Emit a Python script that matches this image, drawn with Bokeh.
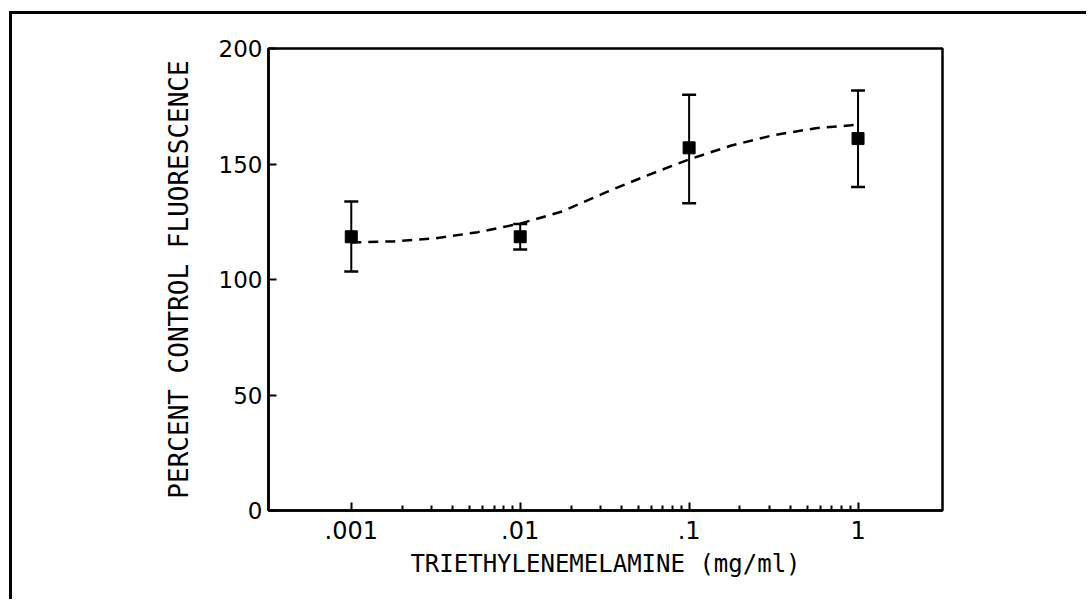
import numpy as np
from bokeh.plotting import figure
from bokeh.models import Range1d, FixedTicker, Whisker, TeeHead, ColumnDataSource
from bokeh.embed import file_html
from bokeh.resources import INLINE

# Data
conc = [0.001, 0.01, 0.1, 1.0]
mean_pct = [118.5, 118.5, 157.0, 161.0]
err_low = [103.5, 113.0, 133.0, 140.0]
err_high = [133.8, 124.0, 180.0, 181.8]

fit_conc = [0.001, 0.00178, 0.00316, 0.00562, 0.01, 0.0178, 0.0316, 0.0562,
            0.1, 0.178, 0.316, 0.562, 1.0]
fit_pct = [116.0, 116.5, 117.8, 120.5, 124.2, 129.5, 137.5, 145.0,
           152.0, 158.0, 162.5, 165.5, 167.0]

x_ticks = [0.001, 0.01, 0.1, 1.0]
x_tick_labels = [".001", ".01", ".1", "1"]
y_ticks = [0, 50, 100, 150, 200]

x_label = "TRIETHYLENEMELAMINE (mg/ml)"
y_label = "PERCENT CONTROL FLUORESCENCE"

p = figure(width=1077, height=588, x_axis_type="log",
           x_range=Range1d(10 ** -3.49, 10 ** 0.5), y_range=Range1d(0, 200),
           output_backend="svg", toolbar_location=None,
           min_border_left=256, min_border_right=147,
           min_border_top=34, min_border_bottom=92)
p.styles = {"border-left": "3px solid black", "border-top": "3px solid black",
            "margin-left": "9px", "margin-top": "11px"}

p.grid.visible = False
p.outline_line_color = "black"
p.outline_line_width = 2.5
p.background_fill_color = "white"
p.border_fill_color = "white"

minor = [m * 10.0 ** e for e in (-3, -2, -1) for m in range(2, 10)]
xa = p.xaxis[0]
xa.ticker = FixedTicker(ticks=x_ticks, minor_ticks=minor)
xa.major_label_overrides = {t: l for t, l in zip(x_ticks, x_tick_labels)}
xa.major_tick_in = 8
xa.major_tick_out = 0
xa.minor_tick_in = 5
xa.minor_tick_out = 0
xa.axis_line_width = 2.5
xa.major_tick_line_width = 2
xa.minor_tick_line_width = 2
xa.major_label_text_font = "DejaVu Sans"
xa.major_label_text_font_size = "24px"
xa.major_label_text_color = "black"
xa.major_label_standoff = 10
xa.axis_label = x_label
xa.axis_label_text_font = "DejaVu Sans Mono"
xa.axis_label_text_font_size = "24px"
xa.axis_label_text_font_style = "normal"
xa.axis_label_text_color = "black"
xa.axis_label_standoff = 8

ya = p.yaxis[0]
ya.ticker = FixedTicker(ticks=y_ticks, minor_ticks=[])
ya.major_tick_in = 8
ya.major_tick_out = 0
ya.axis_line_width = 2.5
ya.major_tick_line_width = 2
ya.major_label_text_font = "DejaVu Sans"
ya.major_label_text_font_size = "23px"
ya.major_label_text_color = "black"
ya.major_label_standoff = 6
ya.axis_label = y_label
ya.axis_label_text_font = "DejaVu Sans Mono"
ya.axis_label_text_font_size = "26px"
ya.axis_label_text_font_style = "normal"
ya.axis_label_text_color = "black"
ya.axis_label_standoff = 22

# fitted dashed curve
p.line(fit_conc, fit_pct, line_color="black", line_width=2.5, line_dash="10 7")

# error bars
src = ColumnDataSource(dict(x=conc, y=mean_pct, lo=err_low, hi=err_high))
w = Whisker(source=src, base="x", lower="lo", upper="hi",
            line_color="black", line_width=2,
            upper_head=TeeHead(size=14, line_width=2.5, line_color="black"),
            lower_head=TeeHead(size=14, line_width=2.5, line_color="black"))
p.add_layout(w)

p.scatter("x", "y", source=src, marker="square", size=12,
          fill_color="black", line_color="black")

open("out.html", "w").write(file_html(p, INLINE))
